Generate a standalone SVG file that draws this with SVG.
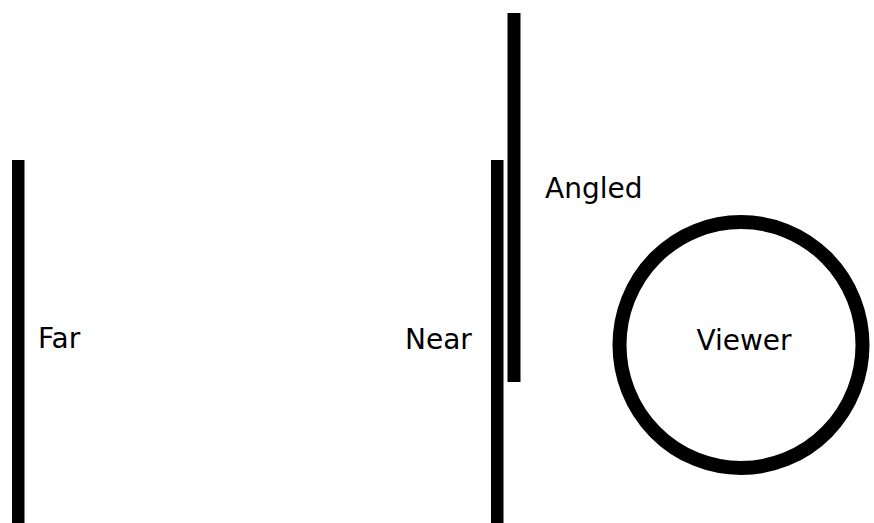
<svg xmlns="http://www.w3.org/2000/svg" width="874" height="523" viewBox="0 0 874 523">
<style>
.bar{fill:#000}
.lbl{font-family:"DejaVu Sans",sans-serif;font-size:28px;fill:#000}
</style>
<rect width="874" height="523" fill="#fff"/>
<g id="far"><rect class="bar" x="12" y="160" width="12.5" height="363"/><text class="lbl" x="38" y="348">Far</text></g>
<g id="near"><rect class="bar" x="491" y="160" width="12.5" height="363"/><text class="lbl" x="405" y="349">Near</text></g>
<g id="angled"><rect class="bar" x="507.5" y="13" width="13" height="369"/><text class="lbl" x="545" y="198">Angled</text></g>
<g id="viewer"><ellipse cx="741" cy="345" rx="121.5" ry="123" fill="none" stroke="#000" stroke-width="14"/><text class="lbl" x="744" y="350" text-anchor="middle">Viewer</text></g>
<g id="connectors"></g>
</svg>
